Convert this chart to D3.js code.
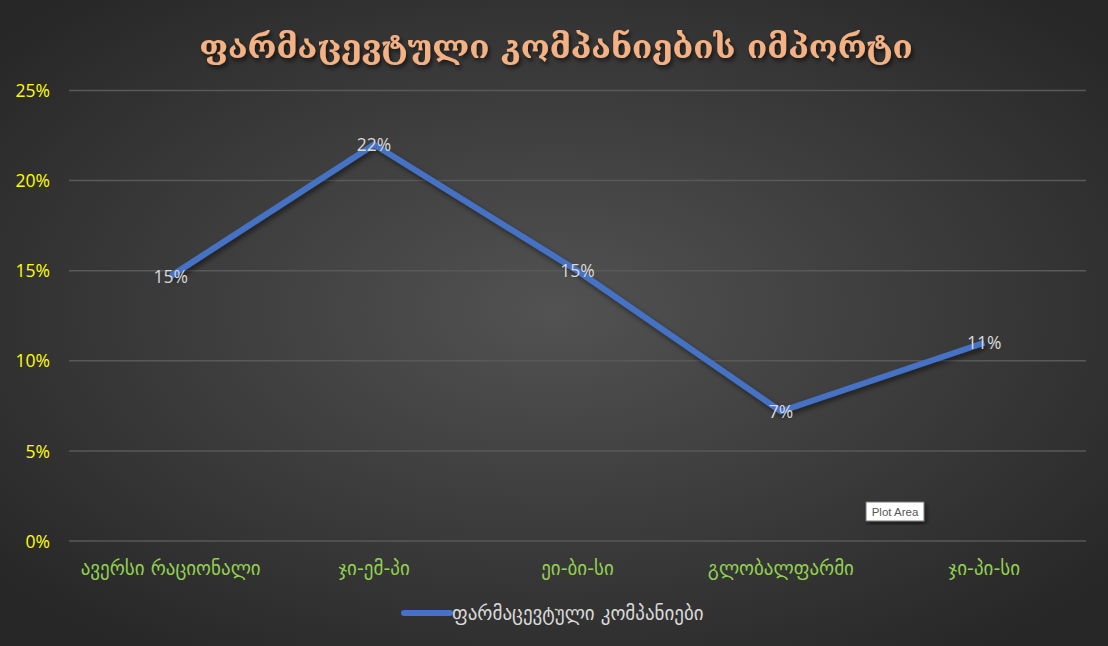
<!DOCTYPE html>
<html><head><meta charset="utf-8">
<script src="https://cdn.jsdelivr.net/npm/d3@7"></script>
<style>
html,body{margin:0;padding:0;background:#333;}
svg{display:block;}
</style>
</head><body>
<svg id="c" width="1108" height="646"></svg>
<script>
const title = "ფარმაცევტული კომპანიების იმპორტი";
const seriesName = "ფარმაცევტული კომპანიები";
const categories = ["ავერსი რაციონალი", "ჯი-ემ-პი", "ეი-ბი-სი", "გლობალფარმი", "ჯი-პი-სი"];
const values = [0.147, 0.22, 0.15, 0.072, 0.11];
const labels = ["15%", "22%", "15%", "7%", "11%"];
const yTicks = [0, 0.05, 0.10, 0.15, 0.20, 0.25];

const W = 1108, H = 646;
const svg = d3.select("#c");
const defs = svg.append("defs");
const rg = defs.append("radialGradient").attr("id","bg").attr("cx","50%").attr("cy","48%").attr("r","65%");
rg.append("stop").attr("offset","0%").attr("stop-color","#525252");
rg.append("stop").attr("offset","100%").attr("stop-color","#272727");
const sh = defs.append("filter").attr("id","sh").attr("x","-10%").attr("y","-30%").attr("width","120%").attr("height","160%");
sh.append("feDropShadow").attr("dx",2).attr("dy",3).attr("stdDeviation",2).attr("flood-color","#000").attr("flood-opacity",0.6);
const lsh = defs.append("filter").attr("id","lsh").attr("x","-10%").attr("y","-10%").attr("width","120%").attr("height","130%");
lsh.append("feDropShadow").attr("dx",2).attr("dy",3).attr("stdDeviation",2.5).attr("flood-color","#000").attr("flood-opacity",0.5);

svg.append("rect").attr("width",W).attr("height",H).attr("fill","url(#bg)");

const x0 = 69, x1 = 1086, yTop = 90.5, yBot = 541;
const x = d3.scaleBand().domain(categories).range([x0, x1]);
const y = d3.scaleLinear().domain([0, 0.25]).range([yBot, yTop]);

// gridlines
svg.append("g").selectAll("line").data(yTicks).join("line")
  .attr("x1", x0).attr("x2", x1)
  .attr("y1", d => y(d)).attr("y2", d => y(d))
  .attr("stroke", "#595959").attr("stroke-width", 1.5);

// y axis labels
const yAxis = d3.axisLeft(y).tickValues(yTicks).tickFormat(d3.format(".0%")).tickSize(0).tickPadding(0);
const ya = svg.append("g").attr("transform", `translate(50,0)`).call(yAxis);
ya.select(".domain").remove();
ya.selectAll("text").attr("fill", "#ffff00").attr("font-family", "'Open Sans', 'DejaVu Sans', sans-serif").attr("font-size", 17.5).attr("dy","0.35em");

// x axis labels
const xAxis = d3.axisBottom(x).tickSize(0).tickPadding(0);
const xa = svg.append("g").attr("transform", `translate(0,561)`).call(xAxis);
xa.select(".domain").remove();
xa.selectAll("text").attr("fill", "#92d050").attr("font-family", "'DejaVu Sans', sans-serif").attr("font-size", 19).attr("dy","0.71em");

// line
const line = d3.line().x((d,i) => x(categories[i]) + x.bandwidth()/2).y(d => y(d));
svg.append("path").datum(values).attr("d", line)
  .attr("fill","none").attr("stroke","#4472c4").attr("stroke-width",6)
  .attr("stroke-linejoin","round").attr("filter","url(#lsh)");

// data labels
svg.append("g").selectAll("text").data(values).join("text")
  .attr("x", (d,i) => x(categories[i]) + x.bandwidth()/2)
  .attr("y", d => y(d) + 6.5)
  .attr("text-anchor","middle")
  .attr("fill","#d9d9d9").attr("font-family","'Open Sans', 'DejaVu Sans', sans-serif").attr("font-size",17.5)
  .text((d,i) => labels[i]);

// title
svg.append("text").attr("x", 556).attr("y", 58).attr("text-anchor","middle")
  .attr("fill","#f4b183").attr("font-family","'DejaVu Serif', serif").attr("font-weight","bold")
  .attr("font-size", 33).attr("filter","url(#sh)").text(title);

// legend
svg.append("line").attr("x1",404).attr("x2",450).attr("y1",613).attr("y2",613)
  .attr("stroke","#4472c4").attr("stroke-width",6).attr("stroke-linecap","round");
svg.append("text").attr("x",452).attr("y",620).attr("fill","#d9d9d9")
  .attr("font-family","'DejaVu Sans', sans-serif").attr("font-size",19).text(seriesName);

// Plot Area tooltip
const tt = svg.append("g").attr("transform","translate(866,502)");
tt.append("rect").attr("width",58).attr("height",19).attr("fill","#fff").attr("stroke","#767676").attr("filter","url(#lsh)");
tt.append("text").attr("x",29).attr("y",14).attr("text-anchor","middle").attr("fill","#575757")
  .attr("font-family","'Liberation Sans', sans-serif").attr("font-size",11.5).text("Plot Area");
</script>
</body></html>
